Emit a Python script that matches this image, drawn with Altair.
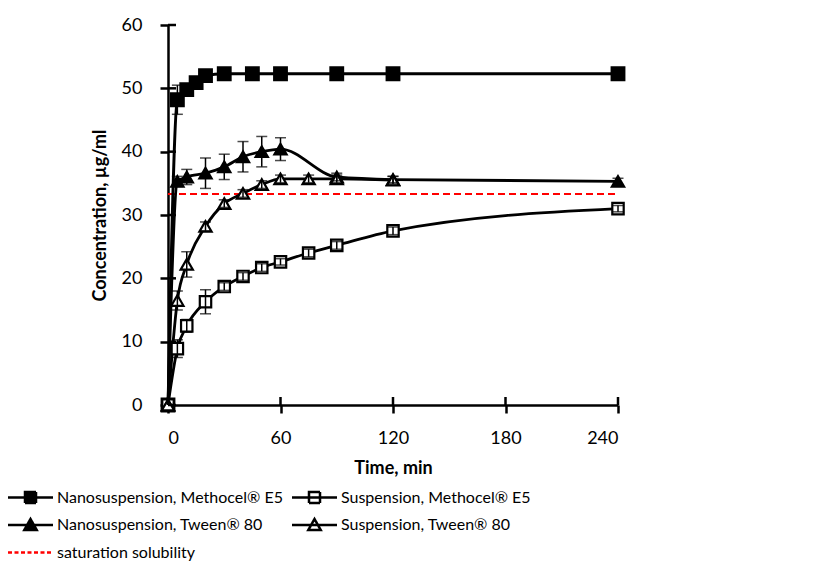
import altair as alt
import pandas as pd

series_names = [
    "Nanosuspension, Methocel® E5",
    "Suspension, Methocel® E5",
    "Nanosuspension, Tween® 80",
    "Suspension, Tween® 80",
    "saturation solubility",
]

# Nanosuspension, Methocel E5
nm_t = [0, 5, 10, 15, 20, 30, 45, 60, 90, 120, 240]
nm_y = [0, 48.2, 49.8, 50.9, 52.0, 52.3, 52.3, 52.3, 52.3, 52.3, 52.3]
nm_e = [0, 2.3, 0.6, 0.4, 0.4, 0.3, 0.3, 0.3, 0.3, 0.3, 0.3]
# Suspension, Methocel E5
sm_t = [0, 5, 10, 20, 30, 40, 50, 60, 75, 90, 120, 240]
sm_y = [0, 8.9, 12.5, 16.3, 18.7, 20.3, 21.7, 22.6, 24.0, 25.2, 27.5, 31.0]
sm_e = [0, 1.4, 1.0, 1.9, 0.6, 0.6, 0.6, 0.5, 0.6, 0.6, 0.6, 0.5]
# Nanosuspension, Tween 80
nt_t = [0, 5, 10, 20, 30, 40, 50, 60, 90, 120, 240]
nt_y = [0, 35.3, 36.0, 36.6, 37.6, 39.2, 40.0, 40.4, 36.0, 35.6, 35.3]
nt_e = [0, 0.8, 1.2, 2.4, 2.0, 2.4, 2.4, 1.8, 0.6, 0.5, 0.5]
# Suspension, Tween 80
st_t = [0, 5, 10, 20, 30, 40, 50, 60, 75, 90, 120]
st_y = [0, 16.5, 22.2, 28.2, 31.8, 33.4, 34.8, 35.7, 35.7, 35.7, 35.5]
st_e = [0, 1.5, 2.0, 0.7, 0.6, 0.6, 0.6, 0.6, 0.6, 0.6, 0.6]

sat_value = 33.3
sat_from, sat_to = 0, 240

x_ticks = [0, 60, 120, 180, 240]
y_ticks = [0, 10, 20, 30, 40, 50, 60]

rows = []
for name, ts, ys, es in [
    (series_names[0], nm_t, nm_y, nm_e),
    (series_names[1], sm_t, sm_y, sm_e),
    (series_names[2], nt_t, nt_y, nt_e),
    (series_names[3], st_t, st_y, st_e),
]:
    for t, y, e in zip(ts, ys, es):
        rows.append(dict(series=name, time=t, conc=y, err=e, lo=y - e, hi=y + e))
df = pd.DataFrame(rows)

W, H = 450, 380
FONT = "Lato"

xscale = alt.Scale(domain=[0, 240], nice=False, zero=False)
yscale = alt.Scale(domain=[0, 60], nice=False, zero=False)
xaxis = alt.Axis(values=x_ticks, title="Time, min", labelPadding=16, titlePadding=12)
yaxis = alt.Axis(values=y_ticks, title="Concentration, µg/ml", labelPadding=18, titlePadding=12)


def X(f):
    return alt.X(f, type="quantitative", scale=xscale, axis=xaxis, title="Time, min")


def Y(f):
    return alt.Y(f, type="quantitative", scale=yscale, axis=yaxis, title="Concentration, µg/ml")


base = alt.Chart(df)

lines = base.mark_line(interpolate="monotone", color="black", strokeWidth=2.8).encode(
    x=X("time"), y=Y("conc"), detail="series:N"
)


def pts(name, shape, filled, size):
    return base.transform_filter(alt.datum.series == name).mark_point(
        shape=shape,
        filled=True,
        fill="black" if filled else "white",
        stroke="black",
        strokeWidth=2.2,
        size=size,
        opacity=1,
    ).encode(x=X("time"), y=Y("conc"))


p_nm = pts(series_names[0], "square", True, 160)
p_sm = pts(series_names[1], "square", False, 130)
p_nt = pts(series_names[2], "triangle-up", True, 150)
p_st = pts(series_names[3], "triangle-up", False, 150)

eb = base.transform_filter(alt.datum.err > 0)
err_rule = eb.mark_rule(color="black", strokeWidth=1.5).encode(
    x=X("time"), y=Y("lo"), y2="hi"
)
err_lo = eb.mark_tick(orient="horizontal", color="black", size=11, thickness=1.5).encode(
    x=X("time"), y=Y("lo")
)
err_hi = eb.mark_tick(orient="horizontal", color="black", size=11, thickness=1.5).encode(
    x=X("time"), y=Y("hi")
)

sat_df = pd.DataFrame({"x": [sat_from], "x2": [sat_to], "y": [sat_value]})
sat = alt.Chart(sat_df).mark_rule(color="#ff0000", strokeDash=[7, 4], strokeWidth=2).encode(
    x=X("x"), x2="x2", y=Y("y")
)

ytick_df = pd.DataFrame({"v": y_ticks})
xtick_df = pd.DataFrame({"v": x_ticks})
yin = alt.Chart(ytick_df).mark_rule(color="black", strokeWidth=2.5).encode(
    y=Y("v"), x=alt.value(0), x2=alt.value(8)
)
xin = alt.Chart(xtick_df).mark_rule(color="black", strokeWidth=2.5).encode(
    x=X("v"), y=alt.value(H - 8), y2=alt.value(H)
)

# legend symbols: a line with the marker in its middle (path shifted to the right
# so that it starts at the entry's left edge)
line_seg = "M-1.15,0H3.35"
sq = "M0.55,-0.55H1.65V0.55H0.55Z"
tri = "M1.1,-0.6L1.72,0.5H0.48Z"
leg_paths = [line_seg + sq, line_seg + sq, line_seg + tri, line_seg + tri, line_seg]
leg_fills = ["black", "white", "black", "white", "transparent"]
leg_strokes = ["black", "black", "black", "black", "#ff0000"]
leg_dash = [[1, 0], [1, 0], [1, 0], [1, 0], [4, 2.5]]

leg = alt.Legend(
    title=None,
    orient="none",
    direction="horizontal",
    legendX=-160,
    legendY=461,
    columns=2,
    columnPadding=4,
    rowPadding=5.5,
    symbolSize=400,
    symbolStrokeWidth=2.5,
    symbolOpacity=1,
    labelFont=FONT,
    labelFontSize=16,
    labelColor="black",
    labelOffset=26,
    labelLimit=500,
    padding=0,
)

legend_df = pd.DataFrame({"series": series_names})
legend_layer = alt.Chart(legend_df).transform_filter("false").mark_point(
    filled=True, strokeWidth=2.5, opacity=1
).encode(
    shape=alt.Shape("series:N", scale=alt.Scale(domain=series_names, range=leg_paths), legend=leg),
    fill=alt.Fill("series:N", scale=alt.Scale(domain=series_names, range=leg_fills), legend=leg),
    stroke=alt.Stroke("series:N", scale=alt.Scale(domain=series_names, range=leg_strokes), legend=leg),
    strokeDash=alt.StrokeDash("series:N", scale=alt.Scale(domain=series_names, range=leg_dash), legend=leg),
)

chart = (
    alt.layer(
        sat, lines, p_nm, p_sm, p_nt, p_st, err_rule, err_lo, err_hi, yin, xin, legend_layer
    )
    .properties(width=W, height=H, padding={"left": 0, "top": 8, "right": 5, "bottom": 0})
    .configure_view(stroke=None)
    .configure_axis(
        grid=False,
        domainColor="black",
        domainWidth=2.5,
        tickColor="black",
        tickWidth=2.5,
        tickSize=8,
        labelFont=FONT,
        labelFontSize=18,
        labelColor="black",
        titleFont=FONT,
        titleFontSize=18,
        titleFontWeight="bold",
        titleColor="black",
    )
)

chart.save("out.html", embed_options={"renderer": "svg", "actions": False})
